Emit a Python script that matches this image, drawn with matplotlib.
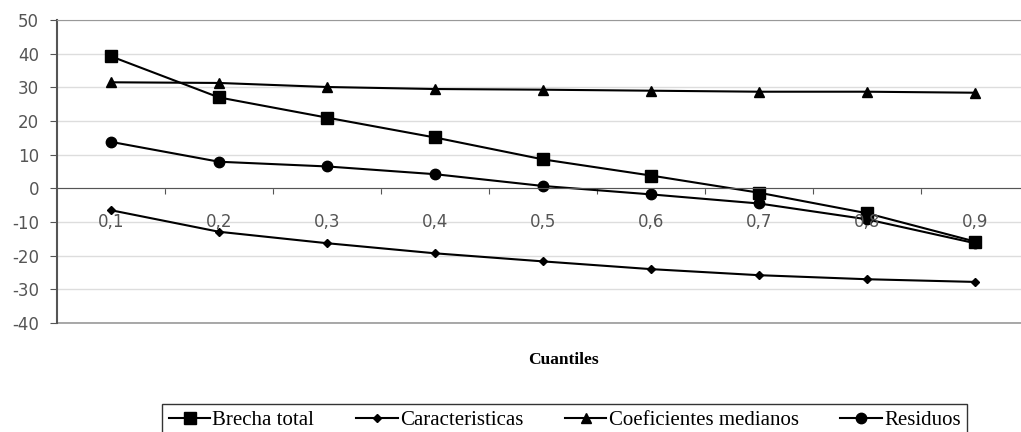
import numpy as np
import matplotlib.pyplot as plt

plt.rcParams["axes.unicode_minus"] = False

cuantiles = ["0,1", "0,2", "0,3", "0,4", "0,5", "0,6", "0,7", "0,8", "0,9"]
brecha_total = [39.2, 27.0, 21.0, 15.1, 8.6, 3.8, -1.3, -7.4, -15.8]
caracteristicas = [-6.5, -12.9, -16.3, -19.3, -21.7, -24.0, -25.8, -27.0, -27.8]
coeficientes = [31.5, 31.3, 30.1, 29.5, 29.3, 29.0, 28.7, 28.7, 28.4]
residuos = [13.8, 7.9, 6.5, 4.2, 0.7, -1.8, -4.5, -9.2, -16.3]

fig = plt.figure(figsize=(10.21, 4.32), dpi=100)
# axes run past the right edge, like the cropped original
ax = fig.add_axes([57 / 1021, 1 - 323 / 432, 972 / 1021, 303 / 432])

x = np.arange(len(cuantiles))
lw = 1.5
ax.plot(x, brecha_total, color="black", lw=lw, marker="s", ms=8, label="Brecha total")
ax.plot(x, caracteristicas, color="black", lw=lw, marker="D", ms=4.5, label="Caracteristicas")
ax.plot(x, coeficientes, color="black", lw=lw, marker="^", ms=7, label="Coeficientes medianos")
ax.plot(x, residuos, color="black", lw=lw, marker="o", ms=7.5, label="Residuos")

ax.set_xlim(-0.5, len(cuantiles) - 0.5)
ax.set_ylim(-40, 50)
ax.set_yticks(np.arange(-40, 51, 10))
ax.tick_params(axis="y", labelsize=12, labelcolor="#555555", length=5, color="#555555", pad=8)
ax.grid(axis="y", color="#dddddd", lw=1)
ax.set_axisbelow(True)

# category axis sits on the zero line
ax.spines["bottom"].set_position(("data", 0))
ax.spines["bottom"].set_color("#555555")
ax.spines["top"].set_color("#999999")
ax.spines["right"].set_visible(False)
ax.spines["left"].set_color("#555555")
ax.spines["left"].set_linewidth(1.5)
ax.set_xticks(x[:-1] + 0.5)
ax.set_xticklabels([])
ax.tick_params(axis="x", length=4, color="#555555", direction="out")
for xi, lab in zip(x, cuantiles):
    ax.text(xi, -10, lab, ha="center", va="center", fontsize=12, color="#555555")

# bottom border at -40
ax.axhline(-40, color="#999999", lw=1.2, clip_on=False)

fig.text(0.552, 1 - 360 / 432, "Cuantiles", ha="center", va="center",
         fontsize=12.5, fontweight="bold", family="Liberation Serif")

fig.legend(loc="upper center", bbox_to_anchor=(0.553, 1 - 394 / 432), ncol=4,
           frameon=True, fancybox=False, edgecolor="black", handlelength=2.0,
           handletextpad=0.1, columnspacing=2.0, borderpad=0.3,
           prop={"family": "Liberation Serif", "size": 15})

fig.savefig("out.png", dpi=100)
